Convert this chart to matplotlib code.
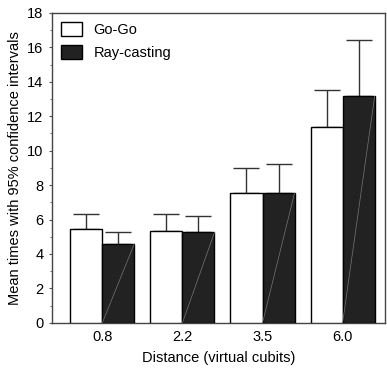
import numpy as np
import matplotlib
matplotlib.use("Agg")
import matplotlib.pyplot as plt
from matplotlib.ticker import MultipleLocator
from matplotlib.patches import Patch

plt.rcParams['font.family'] = ['Liberation Sans', 'DejaVu Sans']

DISTANCES = ["0.8", "2.2", "3.5", "6.0"]
GOGO_MEAN = [5.45, 5.35, 7.55, 11.35]
GOGO_ERR = [0.85, 0.95, 1.45, 2.15]
RAY_MEAN = [4.6, 5.25, 7.55, 13.15]
RAY_ERR = [0.7, 0.95, 1.7, 3.3]

X_LABEL = "Distance (virtual cubits)"
Y_LABEL = "Mean times with 95% confidence intervals"
WIDTH = 0.4
DARK = "#222222"

fig = plt.figure(figsize=(3.87, 3.69), dpi=100)
ax = fig.add_axes([0.134, 0.125, 0.861, 0.840])

x = np.arange(len(DISTANCES))
xg = x - WIDTH / 2
xr = x + WIDTH / 2

ax.bar(xg, GOGO_MEAN, WIDTH, color="white", edgecolor="black", linewidth=1, zorder=3)
ax.bar(xr, RAY_MEAN, WIDTH, color=DARK, edgecolor="black", linewidth=1, zorder=3)

# faint diagonal stroke inside the dark bars
for xi, h in zip(xr, RAY_MEAN):
    ax.plot([xi - WIDTH / 2, xi + WIDTH / 2], [0, h], color="#777777", lw=0.5, zorder=4)

ax.errorbar(xg, GOGO_MEAN, yerr=[np.zeros(4), GOGO_ERR], fmt="none", ecolor="#333333",
            elinewidth=1, capsize=9.5, capthick=1, zorder=2)
ax.errorbar(xr, RAY_MEAN, yerr=[np.zeros(4), RAY_ERR], fmt="none", ecolor="#333333",
            elinewidth=1, capsize=9.5, capthick=1, zorder=2)

ax.set_xlim(-0.63, 3.53)
ax.set_ylim(0, 18)
ax.set_xticks(x)
ax.set_xticklabels(DISTANCES)
ax.yaxis.set_major_locator(MultipleLocator(2))
ax.yaxis.set_minor_locator(MultipleLocator(1))
ax.tick_params(axis="x", length=0, labelsize=10.5, pad=5)
ax.tick_params(axis="y", which="major", length=2, labelsize=10.5, pad=4, color="#555555")
ax.tick_params(axis="y", which="minor", length=1.5, color="#555555")
for s in ax.spines.values():
    s.set_linewidth(1)
    s.set_color("#444444")

ax.set_xlabel(X_LABEL, fontsize=10.5, labelpad=5)
ax.set_ylabel(Y_LABEL, fontsize=10.5, labelpad=4)

handles = [Patch(facecolor="white", edgecolor="black", lw=1),
           Patch(facecolor=DARK, edgecolor="black", lw=1)]
ax.legend(handles, ["Go-Go", "Ray-casting"], loc="upper left", frameon=False,
          fontsize=10.5, handlelength=1.4, handleheight=1.1, borderaxespad=0.25,
          labelspacing=0.5, handletextpad=0.8)

fig.savefig("out.png", dpi=100)
